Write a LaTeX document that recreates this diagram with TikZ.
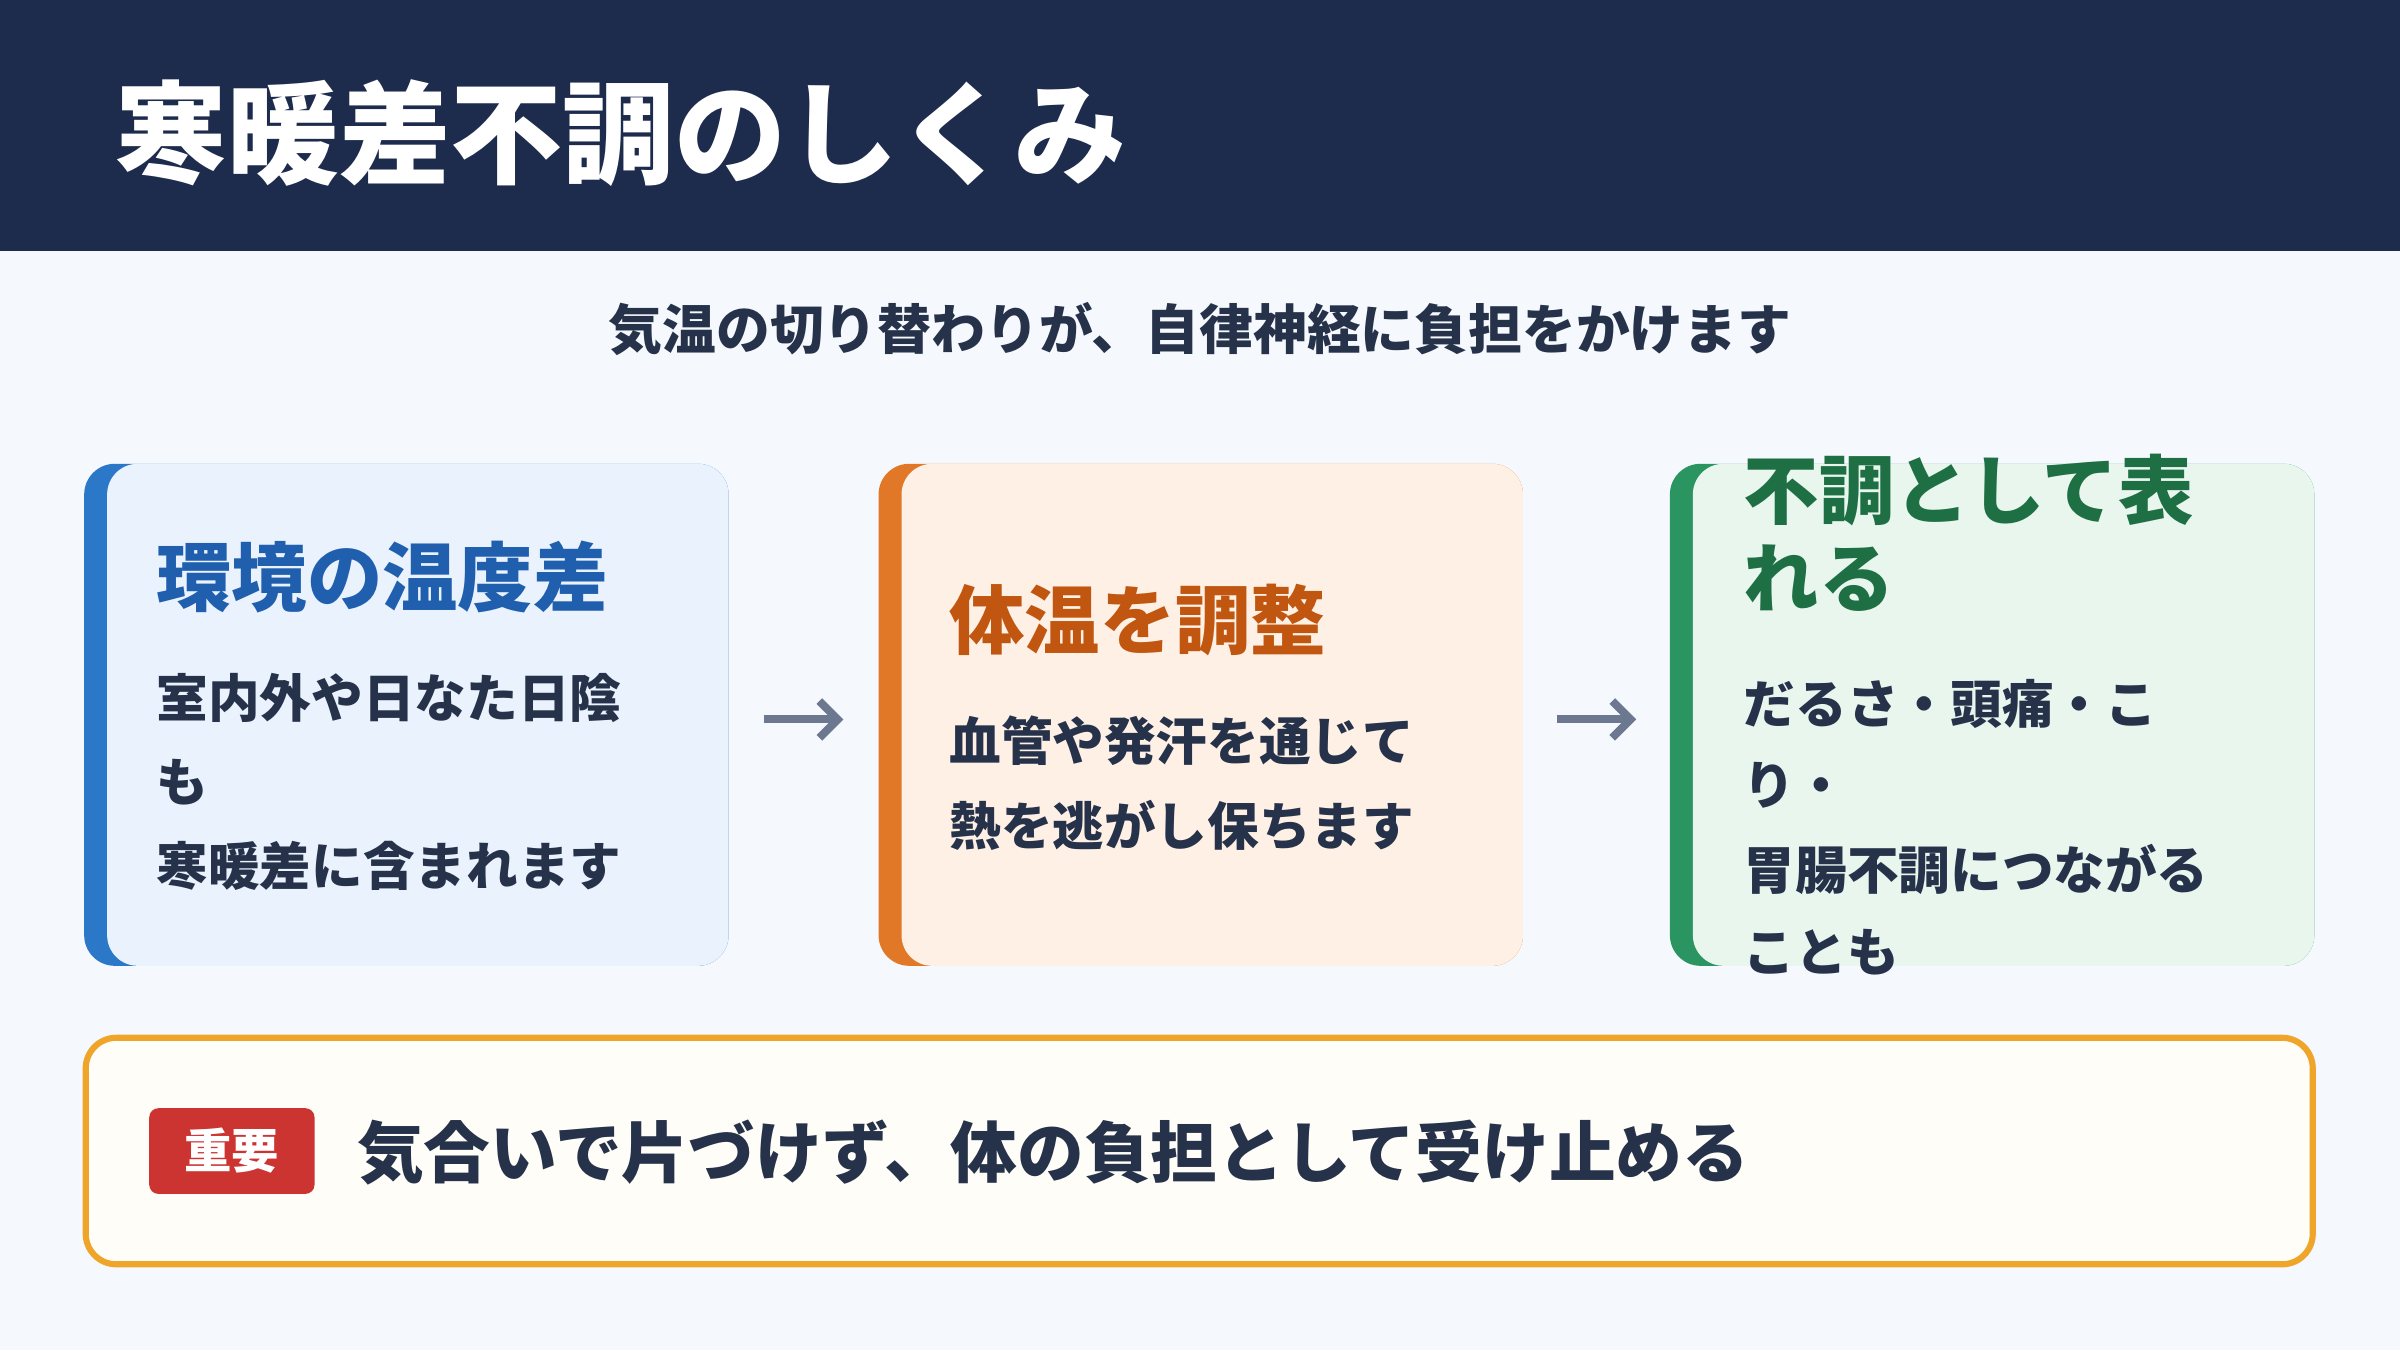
\documentclass[tikz,border=0pt]{standalone}
\usepackage{fontspec}
\usetikzlibrary{arrows.meta}
\setmainfont{Noto Sans CJK JP}
\definecolor{navy}{HTML}{1D2B4D}
\definecolor{bg}{HTML}{F5F8FC}
\definecolor{txt}{HTML}{26324A}
\definecolor{fA}{HTML}{EAF2FE}\definecolor{bA}{HTML}{2B78C9}\definecolor{hA}{HTML}{1F5FAD}
\definecolor{fB}{HTML}{FEF0E4}\definecolor{bB}{HTML}{E07828}\definecolor{hB}{HTML}{C0560F}
\definecolor{fC}{HTML}{E8F6EE}\definecolor{bC}{HTML}{2A9560}\definecolor{hC}{HTML}{1E7044}
\definecolor{gold}{HTML}{EEA52A}\definecolor{cream}{HTML}{FFFDF7}\definecolor{red}{HTML}{CC3431}
\definecolor{arr}{HTML}{6B7890}
\begin{document}
\begin{tikzpicture}[x=0.25mm,y=-0.25mm,
  head/.style={anchor=west,inner sep=0,font=\fontsize{35}{42}\selectfont\bfseries},
  body/.style={anchor=west,inner sep=0,text=txt,font=\fontsize{24}{30}\selectfont\bfseries},
  ar/.style={draw=arr,line width=1.3mm,-{Straight Barb[length=3mm]}}]
\fill[bg] (0,0) rectangle (1568,882);
\fill[navy] (0,0) rectangle (1568,164);
\node[anchor=west,inner sep=0,text=white,font=\fontsize{52}{60}\selectfont\bfseries] (title) at (75,87) {寒暖差不調のしくみ};
\node[inner sep=0,text=txt,font=\fontsize{25}{30}\selectfont\bfseries] (sub) at (784,215) {気温の切り替わりが、自律神経に負担をかけます};
% boxes
\foreach \x/\f/\b in {55/fA/bA,574/fB/bB,1091/fC/bC}{
  \fill[\b,rounded corners=5mm] (\x,303) rectangle ++(421,328);
  \fill[\f,rounded corners=5mm] (\x+15,303) rectangle ++(406,328);
}
\node[head,text=hA] (h1) at (102,377) {環境の温度差};
\node[body] (a1) at (102,456) {室内外や日なた日陰};
\node[body] (a2) at (102,511) {も};
\node[body] (a3) at (102,566) {寒暖差に含まれます};
\node[head,text=hB] (h2) at (620,405) {体温を調整};
\node[body] (b1) at (620,484) {血管や発汗を通じて};
\node[body] (b2) at (620,539) {熱を逃がし保ちます};
\node[head,text=hC] (h3) at (1139,320) {不調として表};
\node[head,text=hC] (h3b) at (1139,378) {れる};
\node[body] (c1) at (1139,460) {だるさ・頭痛・こ};
\node[body] (c2) at (1139,513) {り・};
\node[body] (c3) at (1139,568) {胃腸不調につながる};
\node[body] (c4) at (1139,622) {ことも};
\coordinate (p1) at (499,470);\coordinate (p2) at (551,470);
\coordinate (q1) at (1017,470);\coordinate (q2) at (1069,470);
\draw[ar] (p1)--(p2);\draw[ar] (q1)--(q2);
% bottom
\draw[gold,fill=cream,line width=1mm,rounded corners=5mm] (56,678) rectangle (1511,826);
\node[fill=red,rounded corners=1.5mm,minimum width=27mm,minimum height=14mm,text=white,font=\fontsize{22}{26}\selectfont\bfseries] (badge) at (151.5,752) {重要};
\node[anchor=west,inner sep=0,text=txt,font=\fontsize{31}{36}\selectfont\bfseries] (msg) at (233,753) {気合いで片づけず、体の負担として受け止める};
\end{tikzpicture}
\end{document}
